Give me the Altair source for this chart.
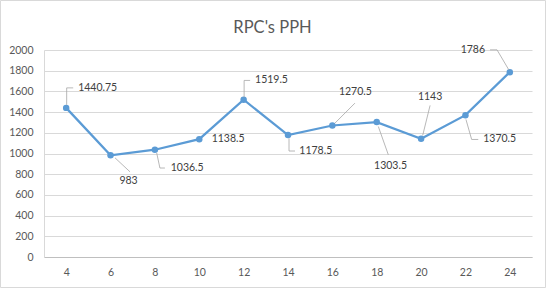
import altair as alt
import pandas as pd

# ---- data ----
hours = [4, 6, 8, 10, 12, 14, 16, 18, 20, 22, 24]
pph = [1440.75, 983, 1036.5, 1138.5, 1519.5, 1178.5, 1270.5, 1303.5, 1143, 1370.5, 1786]
label_text = ["1440.75", "983", "1036.5", "1138.5", "1519.5", "1178.5",
              "1270.5", "1303.5", "1143", "1370.5", "1786"]
y_ticks = [0, 200, 400, 600, 800, 1000, 1200, 1400, 1600, 1800, 2000]

df = pd.DataFrame({"hour": hours, "pph": pph, "label": label_text})

# ---- styling ----
LINE = "#5b9bd5"
FONT = "Lato"
GRID = "#d9d9d9"
TXT = "#595959"
LBL = "#404040"
LEADER = "#a6a6a6"

# data-label placement (pixel offsets from each point): align, dx, dy, leader segments
label_style = [
    ("left", 12, -20, [(0.5, -3, 0.5, -20), (0.5, -20, 7, -20)]),
    ("center", 18, 26, [(4.5, 2.6, 19.5, 16.6)]),
    ("left", 15.8, 18.3, [(1.8, 3.3, 5, 18.3), (5, 18.3, 10, 18.3)]),
    ("left", 12.4, 0, []),
    ("left", 11.4, -19.3, [(0.5, -2.5, 0.5, -19.3), (0.5, -19.3, 6.5, -19.3)]),
    ("left", 11.3, 16, [(1, 3.3, 1, 16), (1, 16, 7, 16)]),
    ("center", 23, -33.4, [(2.6, -2.4, 22.6, -22.4)]),
    ("center", 13.8, 43.7, [(1.6, 4.4, 11.6, 32.7)]),
    ("center", 9, -41.6, [(1.6, -3.3, 9, -33.3)]),
    ("left", 17.8, 24.3, [(0.5, 4.3, 6.2, 24.3), (6.2, 24.3, 12.8, 24.3)]),
    ("right", -24.8, -22.3, [(-1, -2.3, -12.8, -22.3), (-12.8, -22.3, -19.8, -22.3)]),
]

x_scale = alt.Scale(type="point", padding=0.5)
y_scale = alt.Scale(domain=[0, 2000], nice=False)

x_axis = alt.Axis(title=None, ticks=False, grid=False, domainColor="#bfbfbf",
                  labelAngle=0, labelPadding=10, labelFont=FONT,
                  labelFontSize=10.5, labelColor=TXT)
y_axis = alt.Axis(title=None, values=y_ticks, tickCount=len(y_ticks) + 2,
                  format="d", labelOverlap=False, ticks=False, grid=True,
                  gridColor=GRID, gridWidth=1, domain=True, domainColor=GRID,
                  labelPadding=11, labelFont=FONT, labelFontSize=10.5,
                  labelColor=TXT)

X_ENC = alt.X("hour:O", scale=x_scale, sort=hours, axis=x_axis)
Y_ENC = alt.Y("pph:Q", scale=y_scale, axis=y_axis)

base = alt.Chart(df)

line = base.mark_line(color=LINE, strokeWidth=2.25).encode(x=X_ENC, y=Y_ENC)
points = base.mark_circle(size=42, color=LINE, opacity=1).encode(x=X_ENC, y=Y_ENC)

layers = [line, points]
for h, (align, dx, dy, segs) in zip(hours, label_style):
    sub = base.transform_filter(alt.datum.hour == h)
    for (x1, y1, x2, y2) in segs:
        layers.append(
            sub.mark_rule(color=LEADER, strokeWidth=0.8,
                          xOffset=x1, yOffset=y1, x2Offset=x2, y2Offset=y2).encode(
                x=X_ENC, y=Y_ENC,
                x2=alt.X2("hour"),
                y2=alt.Y2("pph"),
            )
        )
    layers.append(
        sub.mark_text(align=align, baseline="middle", dx=dx, dy=dy,
                      font=FONT, fontSize=10.5, color=LBL).encode(
            x=X_ENC, y=Y_ENC,
            text="label:N",
        )
    )

# chart-area border (decoration)
border = alt.Chart(pd.DataFrame({"k": [0]})).mark_rect(
    fillOpacity=0, stroke=GRID, strokeWidth=1).encode(
    x=alt.value(-43.5), x2=alt.value(501.5), y=alt.value(-49.5), y2=alt.value(237.5))
layers.append(border)

chart = alt.layer(*layers).properties(
    width=488,
    height=207,
    padding={"left": 44, "top": 50, "right": 14, "bottom": 32},
    autosize=alt.AutoSizeParams(type="none"),
    title=alt.TitleParams("RPC's PPH", font=FONT, fontSize=16.5, fontWeight="normal",
                          color=TXT, anchor="middle", frame="group", dx=-15.5,
                          offset=-49, baseline="alphabetic"),
).configure(background="white").configure_view(stroke=None)

chart.save("out.html", embed_options={"renderer": "svg", "actions": False})
